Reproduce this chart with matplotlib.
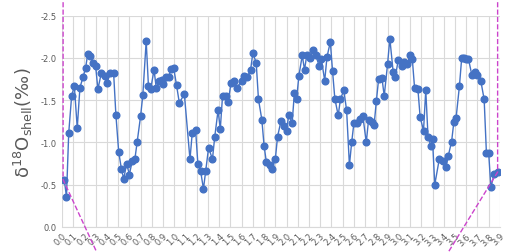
import matplotlib.pyplot as plt
from matplotlib.ticker import MultipleLocator, FormatStrFormatter

# distance along shell and d18O values
dist = [0.02, 0.04, 0.06, 0.086, 0.11, 0.136, 0.16, 0.187, 0.21, 0.23,
        0.25, 0.28, 0.30, 0.32, 0.35, 0.38, 0.40, 0.43, 0.46, 0.48,
        0.505, 0.53, 0.55, 0.576, 0.60, 0.626, 0.65, 0.67, 0.70, 0.72,
        0.75, 0.77, 0.79, 0.82, 0.84, 0.864, 0.89, 0.90, 0.926, 0.95,
        0.97, 0.995, 1.02, 1.045, 1.09, 1.14, 1.16, 1.19, 1.21, 1.235,
        1.26, 1.28, 1.306, 1.34, 1.36, 1.39, 1.41, 1.43, 1.46, 1.48,
        1.505, 1.53, 1.555, 1.60, 1.625, 1.65, 1.68, 1.70, 1.73, 1.75,
        1.78, 1.80, 1.82, 1.85, 1.87, 1.90, 1.92, 1.95, 1.98, 2.00,
        2.02, 2.05, 2.07, 2.09, 2.11, 2.14, 2.16, 2.18, 2.21, 2.24,
        2.26, 2.29, 2.31, 2.34, 2.36, 2.39, 2.41, 2.43, 2.46, 2.48,
        2.51, 2.535, 2.56, 2.58, 2.60, 2.63, 2.65, 2.68, 2.71, 2.73,
        2.76, 2.78, 2.80, 2.82, 2.85, 2.87, 2.90, 2.92, 2.95, 2.97,
        2.995, 3.025, 3.05, 3.075, 3.10, 3.12, 3.14, 3.17, 3.19, 3.22,
        3.24, 3.26, 3.285, 3.30, 3.32, 3.36, 3.39, 3.42, 3.44, 3.47,
        3.49, 3.51, 3.54, 3.56, 3.58, 3.60, 3.62, 3.65, 3.68, 3.70,
        3.73, 3.76, 3.78, 3.80, 3.82, 3.85, 3.88]
d18o = [-0.56, -0.36, -1.11, -1.55, -1.67, -1.17, -1.65, -1.77, -1.88, -2.05,
        -2.02, -1.94, -1.90, -1.63, -1.82, -1.79, -1.70, -1.82, -1.82, -1.33,
        -0.89, -0.68, -0.57, -0.75, -0.62, -0.78, -0.81, -1.01, -1.31, -1.56,
        -2.20, -1.67, -1.63, -1.86, -1.64, -1.73, -1.74, -1.69, -1.77, -1.77,
        -1.87, -1.88, -1.68, -1.47, -1.57, -0.80, -1.11, -1.15, -0.75, -0.66,
        -0.45, -0.66, -0.94, -0.80, -1.06, -1.38, -1.16, -1.55, -1.55, -1.48,
        -1.70, -1.73, -1.64, -1.73, -1.79, -1.77, -1.86, -2.06, -1.94, -1.51,
        -1.27, -0.96, -0.77, -0.73, -0.69, -0.80, -1.07, -1.25, -1.20, -1.14,
        -1.33, -1.23, -1.59, -1.52, -1.79, -2.03, -1.86, -2.03, -2.00, -2.09,
        -2.03, -1.91, -1.99, -1.73, -2.01, -2.19, -1.84, -1.52, -1.32, -1.51,
        -1.62, -1.38, -0.73, -1.00, -1.23, -1.23, -1.28, -1.31, -1.00, -1.26,
        -1.24, -1.21, -1.49, -1.75, -1.76, -1.55, -1.93, -2.23, -1.83, -1.78,
        -1.98, -1.90, -1.95, -1.93, -2.04, -1.99, -1.65, -1.63, -1.30, -1.14,
        -1.62, -1.07, -0.96, -1.04, -0.50, -0.80, -0.78, -0.71, -0.84, -1.01,
        -1.24, -1.29, -1.67, -2.00, -2.00, -1.99, -1.99, -1.80, -1.83, -1.80,
        -1.73, -1.51, -0.88, -0.88, -0.47, -0.63, -0.65]

# zoom connector lines (dashed magenta)
left_x = [0.01, 0.01, 0.31]
left_y = [-2.66, -0.56, 0.30]
right_x = [3.88, 3.88, 3.44]
right_y = [-2.66, -0.65, 0.30]

grey = '#595959'
fig = plt.figure(figsize=(5.08, 2.53), dpi=100)
ax = fig.add_axes([0.122, 0.099, 0.862, 0.835])

ax.plot(dist, d18o, '-o', color='#4472C4', lw=1, ms=4.8, zorder=3)
ax.plot(left_x, left_y, '--', color='#CC44CC', lw=1, clip_on=False, zorder=4)
ax.plot(right_x, right_y, '--', color='#CC44CC', lw=1, clip_on=False, zorder=4)

ax.set_xlim(0, 3.9)
ax.set_ylim(0, -2.5)
ax.xaxis.set_major_locator(MultipleLocator(0.1))
ax.yaxis.set_major_locator(MultipleLocator(0.5))
ax.xaxis.set_major_formatter(FormatStrFormatter('%.1f'))
ax.yaxis.set_major_formatter(FormatStrFormatter('%.1f'))
ax.tick_params(axis='both', length=0, colors=grey, labelsize=6)
ax.tick_params(axis='x', pad=3)
plt.setp(ax.get_xticklabels(), rotation=45, ha='right', rotation_mode='anchor')

ax.grid(True, color='#d9d9d9', lw=0.8)
ax.set_axisbelow(True)
for s in ['top', 'right', 'left']:
    ax.spines[s].set_visible(False)
ax.spines['bottom'].set_color('#d9d9d9')

ax.set_ylabel(r'$\mathregular{\delta^{18}O_{shell}}$(‰)', fontsize=13, color=grey, labelpad=4)

fig.savefig('out.png', dpi=100)
